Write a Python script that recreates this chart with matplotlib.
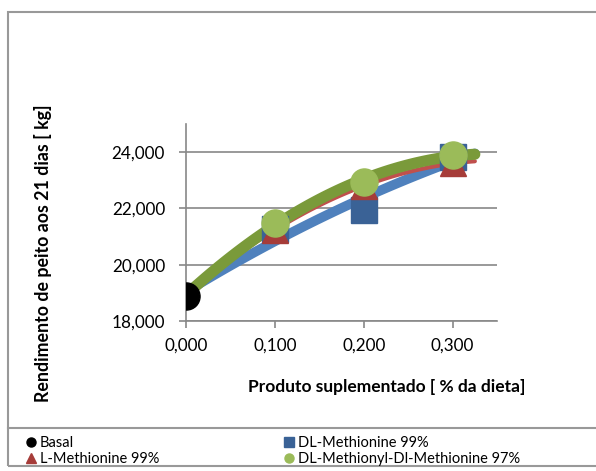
import numpy as np
import matplotlib
matplotlib.use("Agg")
import matplotlib.pyplot as plt
from matplotlib.patches import Rectangle
from matplotlib.lines import Line2D
from matplotlib.ticker import FuncFormatter

plt.rcParams["font.family"] = ["Lato", "DejaVu Sans"]

# doses (% da dieta)
doses = [0.1, 0.2, 0.3]
basal_x = [0.0]
basal_y = [18900]
dl_met = [21260, 21950, 23810]
l_met = [21250, 22780, 23600]
dldl_met = [21490, 22950, 23880]

series = [
    ("DL-Methionine 99%", dl_met, "#4F81BD", "#3A6296", "s", 19, 7),
    ("L-Methionine 99%", l_met, "#C0504D", "#A63C39", "^", 19, 3),
    ("DL-Methionyl-Dl-Methionine 97%", dldl_met, "#7A9A3A", "#9BBB59", "o", 19.5, 8),
]

fig = plt.figure(figsize=(5.96, 4.71), dpi=100)
ax = fig.add_axes([0.312, 0.318, 0.522, 0.419])

# trend lines (2nd order polynomial through basal + doses)
xs = np.linspace(0, 0.325, 100)
for name, ys, lc, mc, mk, ms, lw in series:
    c = np.polyfit(basal_x + doses, basal_y + ys, 2)
    ax.plot(xs, np.polyval(c, xs), color=lc, lw=lw, solid_capstyle="round", zorder=2)

handles = {}
for name, ys, lc, mc, mk, ms, lw in series:
    ax.plot(doses, ys, ls="none", marker=mk, ms=ms, color=mc, zorder=3)
    handles[name] = Line2D([], [], ls="none", marker=mk, ms=6.5, color=mc)
ax.plot(basal_x, basal_y, ls="none", marker="o", ms=19.5, color="black", zorder=4)
handles["Basal"] = Line2D([], [], ls="none", marker="o", ms=6.5, color="black")

ax.set_xlim(0, 0.35)
ax.set_ylim(18000, 25000)
ax.set_xticks([0, 0.1, 0.2, 0.3])
ax.set_yticks([18000, 20000, 22000, 24000])
ax.xaxis.set_major_formatter(FuncFormatter(lambda v, p: f"{v:.3f}".replace(".", ",")))
ax.yaxis.set_major_formatter(FuncFormatter(lambda v, p: f"{v:,.0f}"))
ax.grid(axis="y", color="#888888", lw=1.2)
ax.set_axisbelow(True)
for s in ["top", "right"]:
    ax.spines[s].set_visible(False)
for s in ["left", "bottom"]:
    ax.spines[s].set_color("#888888")
    ax.spines[s].set_linewidth(1.2)
ax.tick_params(colors="#888888", labelcolor="black", labelsize=12.3, length=5, width=1.2)
ax.tick_params(axis="x", pad=7)
ax.tick_params(axis="y", pad=10)

fig.text(0.072, 0.463, "Rendimento de peito aos 21 dias [ kg]", rotation=90,
         fontsize=12.8, fontweight="bold", ha="center", va="center")
fig.text(0.649, 0.178, "Produto suplementado [ % da dieta]", fontsize=12.5,
         fontweight="bold", ha="center", va="center")

# outer frame and legend separator
fig.patches.append(Rectangle((0.0134, 0.0106), 1.0, 0.964, transform=fig.transFigure,
                             fill=False, edgecolor="#999999", lw=1.5))
fig.lines.append(Line2D([0.0134, 1.0], [0.0913, 0.0913], transform=fig.transFigure,
                        color="#999999", lw=1.5))

order = ["Basal", "L-Methionine 99%", "DL-Methionine 99%", "DL-Methionyl-Dl-Methionine 97%"]
leg = fig.legend([handles[k] for k in order], order, ncol=2, loc="upper left",
                 bbox_to_anchor=(0.03, 0.092), frameon=False, fontsize=10.5,
                 handlelength=0.6, handletextpad=0.3,
                 columnspacing=8.6, labelspacing=0.1, borderpad=0.1)

fig.savefig("out.png", dpi=100)
